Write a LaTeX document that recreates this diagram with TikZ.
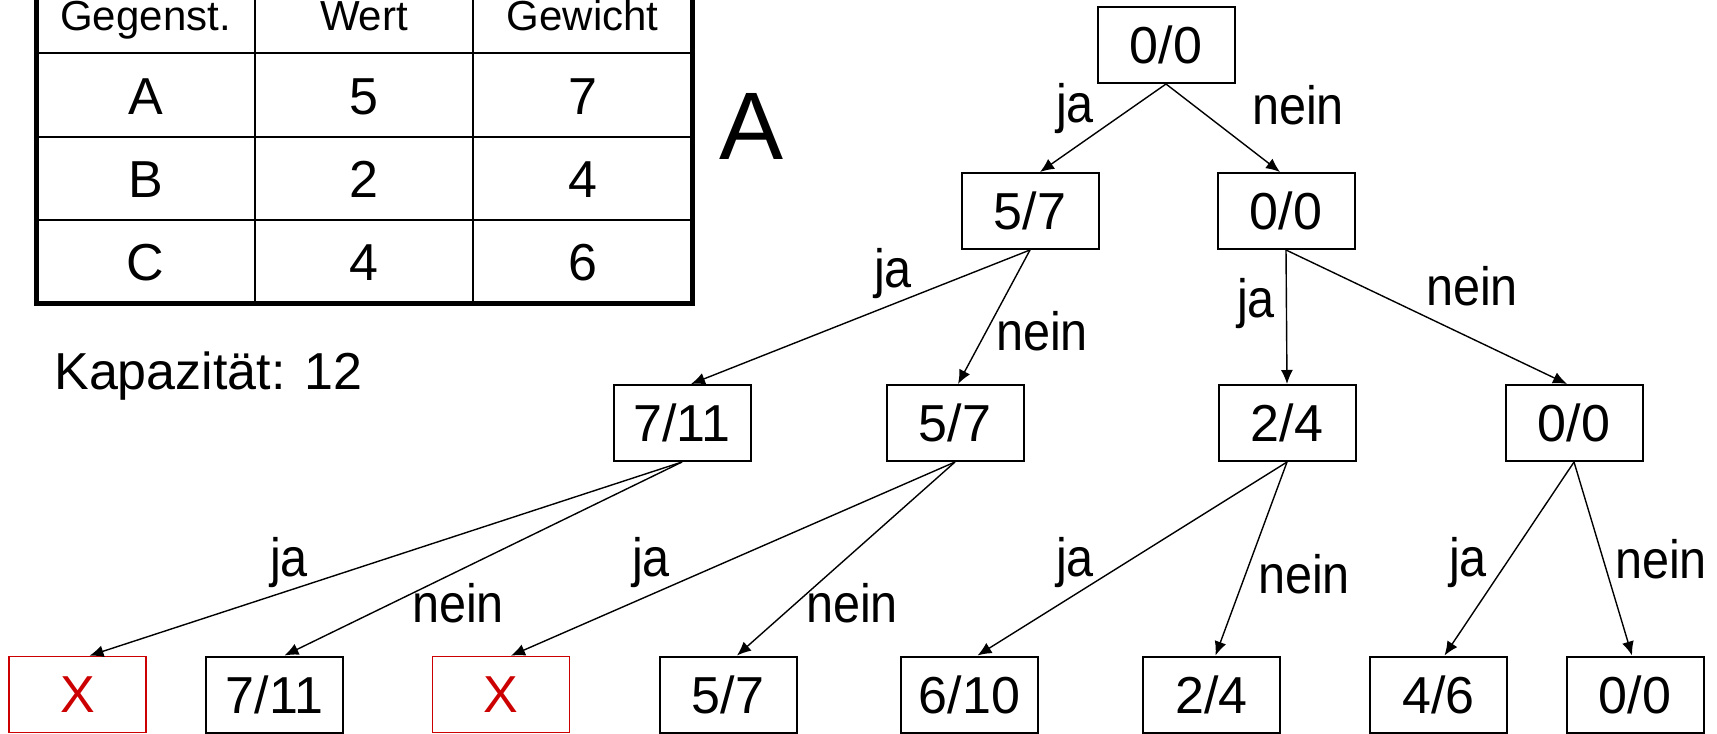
\documentclass[tikz,border=0pt]{standalone}
\usepackage{fontspec}
\setmainfont{Liberation Sans}
\newfontfamily\narrowfont{Liberation Sans}[FakeStretch=0.9]
\usetikzlibrary{arrows.meta}
\definecolor{xred}{RGB}{204,0,0}
\begin{document}
\begin{tikzpicture}[x=0.5pt,y=-0.5pt,
  tbox/.style={draw, line width=1pt, minimum width=68.5pt, minimum height=38pt, inner sep=0pt, font=\fontsize{26pt}{30pt}\selectfont},
  xbox/.style={tbox, draw=xred, text=xred, line width=0.8pt},
  arr/.style={-{Latex[length=7pt,width=6pt]}, line width=0.7pt},
  lbl/.style={anchor=base, inner sep=0pt, font=\narrowfont\fontsize{27pt}{30pt}\selectfont},
  cell/.style={anchor=base, inner sep=0pt, font=\fontsize{26pt}{30pt}\selectfont},
  head/.style={anchor=base, inner sep=0pt, font=\fontsize{21pt}{25pt}\selectfont},
  thin/.style={line width=1.25pt},
  thick/.style={line width=2.5pt}]
\useasboundingbox (0,0) rectangle (1717,733);
\clip (0,0) rectangle (1717,733);
% table
\draw[thin] (255,-29) -- (255,303) (473,-29) -- (473,303);
\draw[thin] (36,53) -- (692,53) (36,137) -- (692,137) (36,220) -- (692,220);
\draw[thick] (36,-29) -- (36,303) -- (692,303) -- (692,-29);
\node[head] (h1) at (145.5,31) {Gegenst.};
\node[head] (h2) at (364,31) {Wert};
\node[head] (h3) at (582.5,31) {Gewicht};
\node[cell] (c11) at (145.5,115) {A};
\node[cell] (c12) at (364,115) {5};
\node[cell] (c13) at (582.5,115) {7};
\node[cell] (c21) at (145.5,197) {B};
\node[cell] (c22) at (364,197) {2};
\node[cell] (c23) at (582.5,197) {4};
\node[cell] (c31) at (145.5,280) {C};
\node[cell] (c32) at (364,280) {4};
\node[cell] (c33) at (582.5,280) {6};
\node[anchor=base, inner sep=0pt, font=\fontsize{48pt}{56pt}\selectfont] (bigA) at (752,159) {A};
\node[anchor=base west, inner sep=0pt, font=\fontsize{26pt}{30pt}\selectfont] (kap) at (54,389) {Kapazität: 12};
% tree nodes
\node[tbox] (r) at (1166,45) {0/0};
\node[tbox] (a) at (1030,211) {5/7};
\node[tbox] (b) at (1286,211) {0/0};
\node[tbox] (c) at (682,423) {7/11};
\node[tbox] (d) at (955,423) {5/7};
\node[tbox] (e) at (1287,423) {2/4};
\node[tbox] (f) at (1574,423) {0/0};
\node[xbox] (g1) at (77.5,694.5) {X};
\node[tbox] (g2) at (274.5,694.5) {7/11};
\node[xbox] (g3) at (501,694.5) {X};
\node[tbox] (g4) at (728,694.5) {5/7};
\node[tbox] (g5) at (969.5,694.5) {6/10};
\node[tbox] (g6) at (1211.5,694.5) {2/4};
\node[tbox] (g7) at (1438.5,694.5) {4/6};
\node[tbox] (g8) at (1635,694.5) {0/0};
% edges
\draw[arr] (r.south) -- ([xshift=5pt]a.north);
\draw[arr] (r.south) -- ([xshift=-3pt]b.north);
\draw[arr] (a.south) -- ([xshift=4.5pt]c.north);
\draw[arr] (a.south) -- ([xshift=1.5pt]d.north);
\draw[arr] (b.south) -- (e.north);
\draw[arr] (b.south) -- ([xshift=-3.5pt]f.north);
\draw[arr] (c.south) -- ([xshift=6pt]g1.north);
\draw[arr] (c.south) -- ([xshift=5pt]g2.north);
\draw[arr] (d.south) -- ([xshift=5pt]g3.north);
\draw[arr] (d.south) -- ([xshift=4.5pt]g4.north);
\draw[arr] (e.south) -- ([xshift=4pt]g5.north);
\draw[arr] (e.south) -- ([xshift=2pt]g6.north);
\draw[arr] (f.south) -- ([xshift=3pt]g7.north);
\draw[arr] (f.south) -- ([xshift=-1.5pt]g8.north);
% labels
\node[lbl] (l1) at (1075,122) {ja};
\node[lbl] (l2) at (1298,125) {nein};
\node[lbl] (l3) at (893,287) {ja};
\node[lbl] (l4) at (1042,350) {nein};
\node[lbl] (l5) at (1256,317) {ja};
\node[lbl] (l6) at (1472,305) {nein};
\node[lbl] (l7) at (289,576) {ja};
\node[lbl] (l8) at (458,622) {nein};
\node[lbl] (l9) at (651,576) {ja};
\node[lbl] (l10) at (852,622) {nein};
\node[lbl] (l11) at (1075,576) {ja};
\node[lbl] (l12) at (1304,593) {nein};
\node[lbl] (l13) at (1468,576) {ja};
\node[lbl] (l14) at (1661,578) {nein};
\end{tikzpicture}
\end{document}
